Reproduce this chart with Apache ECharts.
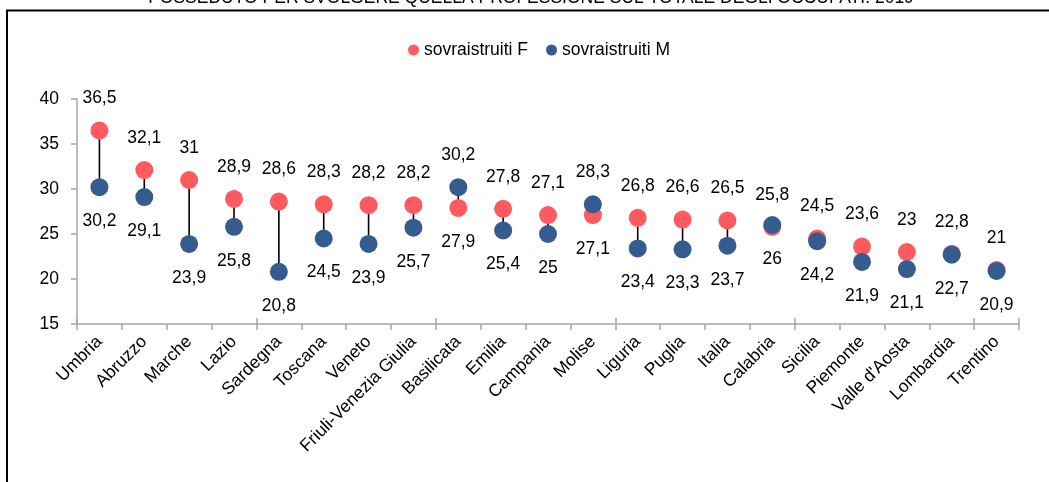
<!DOCTYPE html>
<html>
<head>
<meta charset="utf-8">
<script src="https://cdn.jsdelivr.net/npm/echarts@6/dist/echarts.min.js"></script>
<style>
  html, body { margin: 0; padding: 0; background: #ffffff; }
  #chart { width: 1049px; height: 482px; }
</style>
</head>
<body>
<div id="chart"></div>
<script>
// Quota di sovraistruiti per regione, donne e uomini (valori percentuali)
const titleText = 'POSSEDUTO PER SVOLGERE QUELLA PROFESSIONE SUL TOTALE DEGLI OCCUPATI. 2019';
const regions = ['Umbria', 'Abruzzo', 'Marche', 'Lazio', 'Sardegna', 'Toscana', 'Veneto',
  'Friuli-Venezia Giulia', 'Basilicata', 'Emilia', 'Campania', 'Molise', 'Liguria', 'Puglia',
  'Italia', 'Calabria', 'Sicilia', 'Piemonte', "Valle d'Aosta", 'Lombardia', 'Trentino'];
const femmine = [36.5, 32.1, 31, 28.9, 28.6, 28.3, 28.2, 28.2, 27.9, 27.8, 27.1, 27.1, 26.8, 26.6,
  26.5, 25.8, 24.5, 23.6, 23, 22.8, 21];
const maschi = [30.2, 29.1, 23.9, 25.8, 20.8, 24.5, 23.9, 25.7, 30.2, 25.4, 25, 28.3, 23.4, 23.3,
  23.7, 26, 24.2, 21.9, 21.1, 22.7, 20.9];
const seriesNames = ['sovraistruiti F', 'sovraistruiti M'];
const yTicks = { min: 15, max: 40, step: 5 };

const FONT = "'Liberation Sans', Arial, sans-serif";
const FS = 17.5;
const RED = '#FF5A5F';
const BLUE = '#345C8F';
const AXIS_GREY = '#A6A6A6';

const fmt = v => String(v).replace('.', ',');

// the higher-valued men's point gets its label above, the women's one below
const menAbove = maschi.map((m, i) => m - femmine[i] > 1);

function pointData(values, isMen) {
  return values.map((v, i) => {
    const above = isMen ? menAbove[i] : !menAbove[i];
    return {
      value: [i, v],
      label: { position: above ? 'top' : 'bottom', distance: above ? 14 : 16 }
    };
  });
}

const labelStyle = {
  show: true,
  fontFamily: FONT,
  fontSize: FS,
  color: '#000',
  formatter: p => fmt(p.value[1])
};

const chart = echarts.init(document.getElementById('chart'), null, { renderer: 'canvas' });

chart.setOption({
  animation: false,
  backgroundColor: '#ffffff',
  textStyle: { fontFamily: FONT },
  graphic: [
    {
      type: 'text',
      x: 531,
      y: -1.5,
      style: {
        text: titleText,
        fontFamily: FONT,
        fontSize: 17.5,
        fill: '#000',
        align: 'center',
        verticalAlign: 'middle'
      }
    },
    {
      type: 'rect',
      shape: { x: 7, y: 10.5, width: 1100, height: 600 },
      style: { fill: 'none', stroke: '#000', lineWidth: 2 }
    }
  ],
  legend: {
    data: seriesNames,
    left: 403,
    top: 36,
    icon: 'circle',
    itemWidth: 11,
    itemHeight: 11,
    itemGap: 18,
    textStyle: { fontFamily: FONT, fontSize: FS, color: '#000' }
  },
  grid: { left: 77, right: 30, top: 99, bottom: 158, containLabel: false },
  xAxis: [
    {
      type: 'category',
      data: regions,
      boundaryGap: true,
      axisLine: { lineStyle: { color: AXIS_GREY, width: 1.5 } },
      axisTick: { show: true, length: 6, lineStyle: { color: AXIS_GREY, width: 1.5 } },
      axisLabel: { rotate: 45, margin: 15, fontFamily: FONT, fontSize: FS, color: '#000', interval: 0 }
    },
    {
      type: 'category',
      data: regions,
      position: 'bottom',
      offset: 0,
      boundaryGap: true,
      axisLine: { show: false },
      axisTick: { show: true, inside: true, length: 6, lineStyle: { color: AXIS_GREY, width: 1.5 } },
      axisLabel: { show: false }
    }
  ],
  yAxis: {
    type: 'value',
    min: yTicks.min,
    max: yTicks.max,
    interval: yTicks.step,
    axisLine: { show: true, lineStyle: { color: AXIS_GREY, width: 1.5 } },
    axisTick: { show: true, length: 6, lineStyle: { color: AXIS_GREY, width: 1.5 } },
    splitLine: { show: false },
    axisLabel: { margin: 18, fontFamily: FONT, fontSize: FS, color: '#000' }
  },
  series: [
    {
      type: 'custom',
      name: 'gap',
      silent: true,
      z: 1,
      encode: { x: 0, y: [1, 2] },
      data: regions.map((r, i) => [i, femmine[i], maschi[i]]),
      renderItem: (params, api) => {
        const a = api.coord([api.value(0), api.value(1)]);
        const b = api.coord([api.value(0), api.value(2)]);
        return {
          type: 'line',
          shape: { x1: a[0], y1: a[1], x2: b[0], y2: b[1] },
          style: { stroke: '#000', lineWidth: 1.6 }
        };
      }
    },
    {
      type: 'scatter',
      name: seriesNames[0],
      z: 2,
      symbol: 'circle',
      symbolSize: 18,
      itemStyle: { color: RED, opacity: 1 },
      label: labelStyle,
      data: pointData(femmine, false)
    },
    {
      type: 'scatter',
      name: seriesNames[1],
      z: 3,
      symbol: 'circle',
      symbolSize: 18,
      itemStyle: { color: BLUE, opacity: 1 },
      label: labelStyle,
      data: pointData(maschi, true)
    }
  ]
});
</script>
</body>
</html>
